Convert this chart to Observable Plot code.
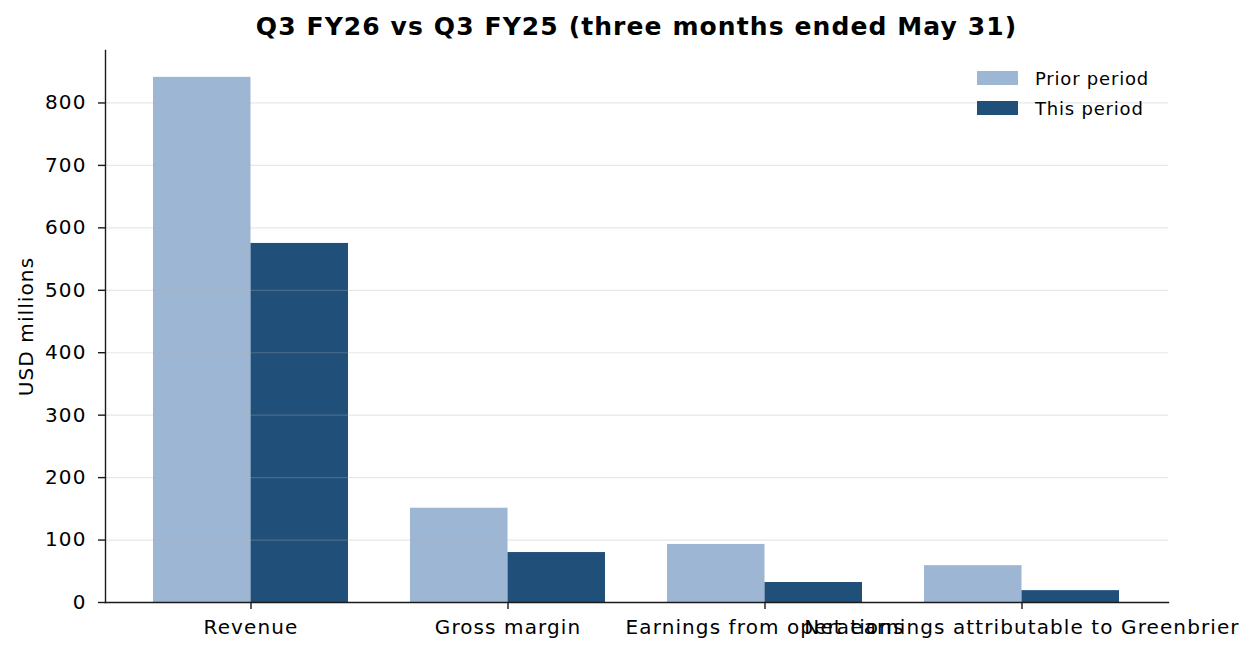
<!DOCTYPE html>
<html>
<head>
<meta charset="utf-8">
<script src="https://cdn.jsdelivr.net/npm/d3@7"></script>
<script src="https://cdn.jsdelivr.net/npm/@observablehq/plot@0.6"></script>
<style>
  html, body { margin: 0; padding: 0; background: #fff; }
  body { width: 1254px; height: 656px; position: relative; overflow: hidden; font-family: "DejaVu Sans", sans-serif; }
  #title { position: absolute; left: 40px; width: 1193px; top: 11px; text-align: center; font-weight: bold; font-size: 25px; letter-spacing: 1.1px; color: #000; line-height: 32px; }
  #chart { position: absolute; left: 0; top: 44px; }
  #legend { position: absolute; left: 977px; top: 63px; font-size: 18px; letter-spacing: 0.8px; color: #000; }
  .item { display: flex; align-items: center; height: 30px; }
  .sw { width: 41px; height: 14px; margin-right: 17px; }
  #chart svg text { letter-spacing: 1.1px; }
</style>
</head>
<body>
<div id="title">Q3 FY26 vs Q3 FY25 (three months ended May 31)</div>
<div id="chart"></div>
<div id="legend"></div>
<script>
const categories = ["Revenue", "Gross margin", "Earnings from operations", "Net earnings attributable to Greenbrier"];
const seriesNames = ["Prior period", "This period"];
const priorValues = [841, 151, 93, 59];
const thisValues = [575, 80, 32, 19];
const seriesColors = ["#9db6d3", "#204f79"];
const yTicks = [0, 100, 200, 300, 400, 500, 600, 700, 800];

const prior = categories.map((c, i) => ({category: c, value: priorValues[i]}));
const current = categories.map((c, i) => ({category: c, value: thisValues[i]}));

const W = 1254, H = 612;
const half = 97.5;

const chart = Plot.plot({
  width: W,
  height: H,
  marginLeft: 105,
  marginRight: 86,
  marginTop: 6,
  marginBottom: 54,
  style: {fontFamily: "DejaVu Sans, sans-serif", fontSize: "20px", color: "#000", background: "#fff"},
  x: {domain: categories, paddingInner: 0.2412, paddingOuter: 0.1886, align: 0.5, label: null},
  y: {domain: [0, 884], label: null},
  marks: [
    Plot.barY(prior, {x: "category", y: "value", fill: seriesColors[0], insetRight: half, insetLeft: 0}),
    Plot.barY(current, {x: "category", y: "value", fill: seriesColors[1], insetLeft: half, insetRight: 0}),
    Plot.ruleY(yTicks.filter(d => d > 0), {stroke: "#b0b0b0", strokeOpacity: 0.3, strokeWidth: 1.2}),
    Plot.frame({anchor: "left", stroke: "#1a1a1a", strokeWidth: 1.4}),
    Plot.frame({anchor: "bottom", stroke: "#1a1a1a", strokeWidth: 1.4}),
    Plot.axisY({ticks: yTicks, tickSize: 7, tickPadding: 12, stroke: "#1a1a1a", strokeWidth: 1.4,
      label: "USD millions", labelAnchor: "center", labelArrow: "none", labelOffset: 87, fontSize: 20}),
    Plot.axisX({tickSize: 7, tickPadding: 10, stroke: "#1a1a1a", strokeWidth: 1.4, fontSize: 20, label: null})
  ]
});
document.getElementById("chart").appendChild(chart);

const legend = document.getElementById("legend");
seriesNames.forEach((name, i) => {
  const item = document.createElement("div");
  item.className = "item";
  const sw = document.createElement("div");
  sw.className = "sw";
  sw.style.background = seriesColors[i];
  const lab = document.createElement("span");
  lab.textContent = name;
  item.appendChild(sw);
  item.appendChild(lab);
  legend.appendChild(item);
});
</script>
</body>
</html>
